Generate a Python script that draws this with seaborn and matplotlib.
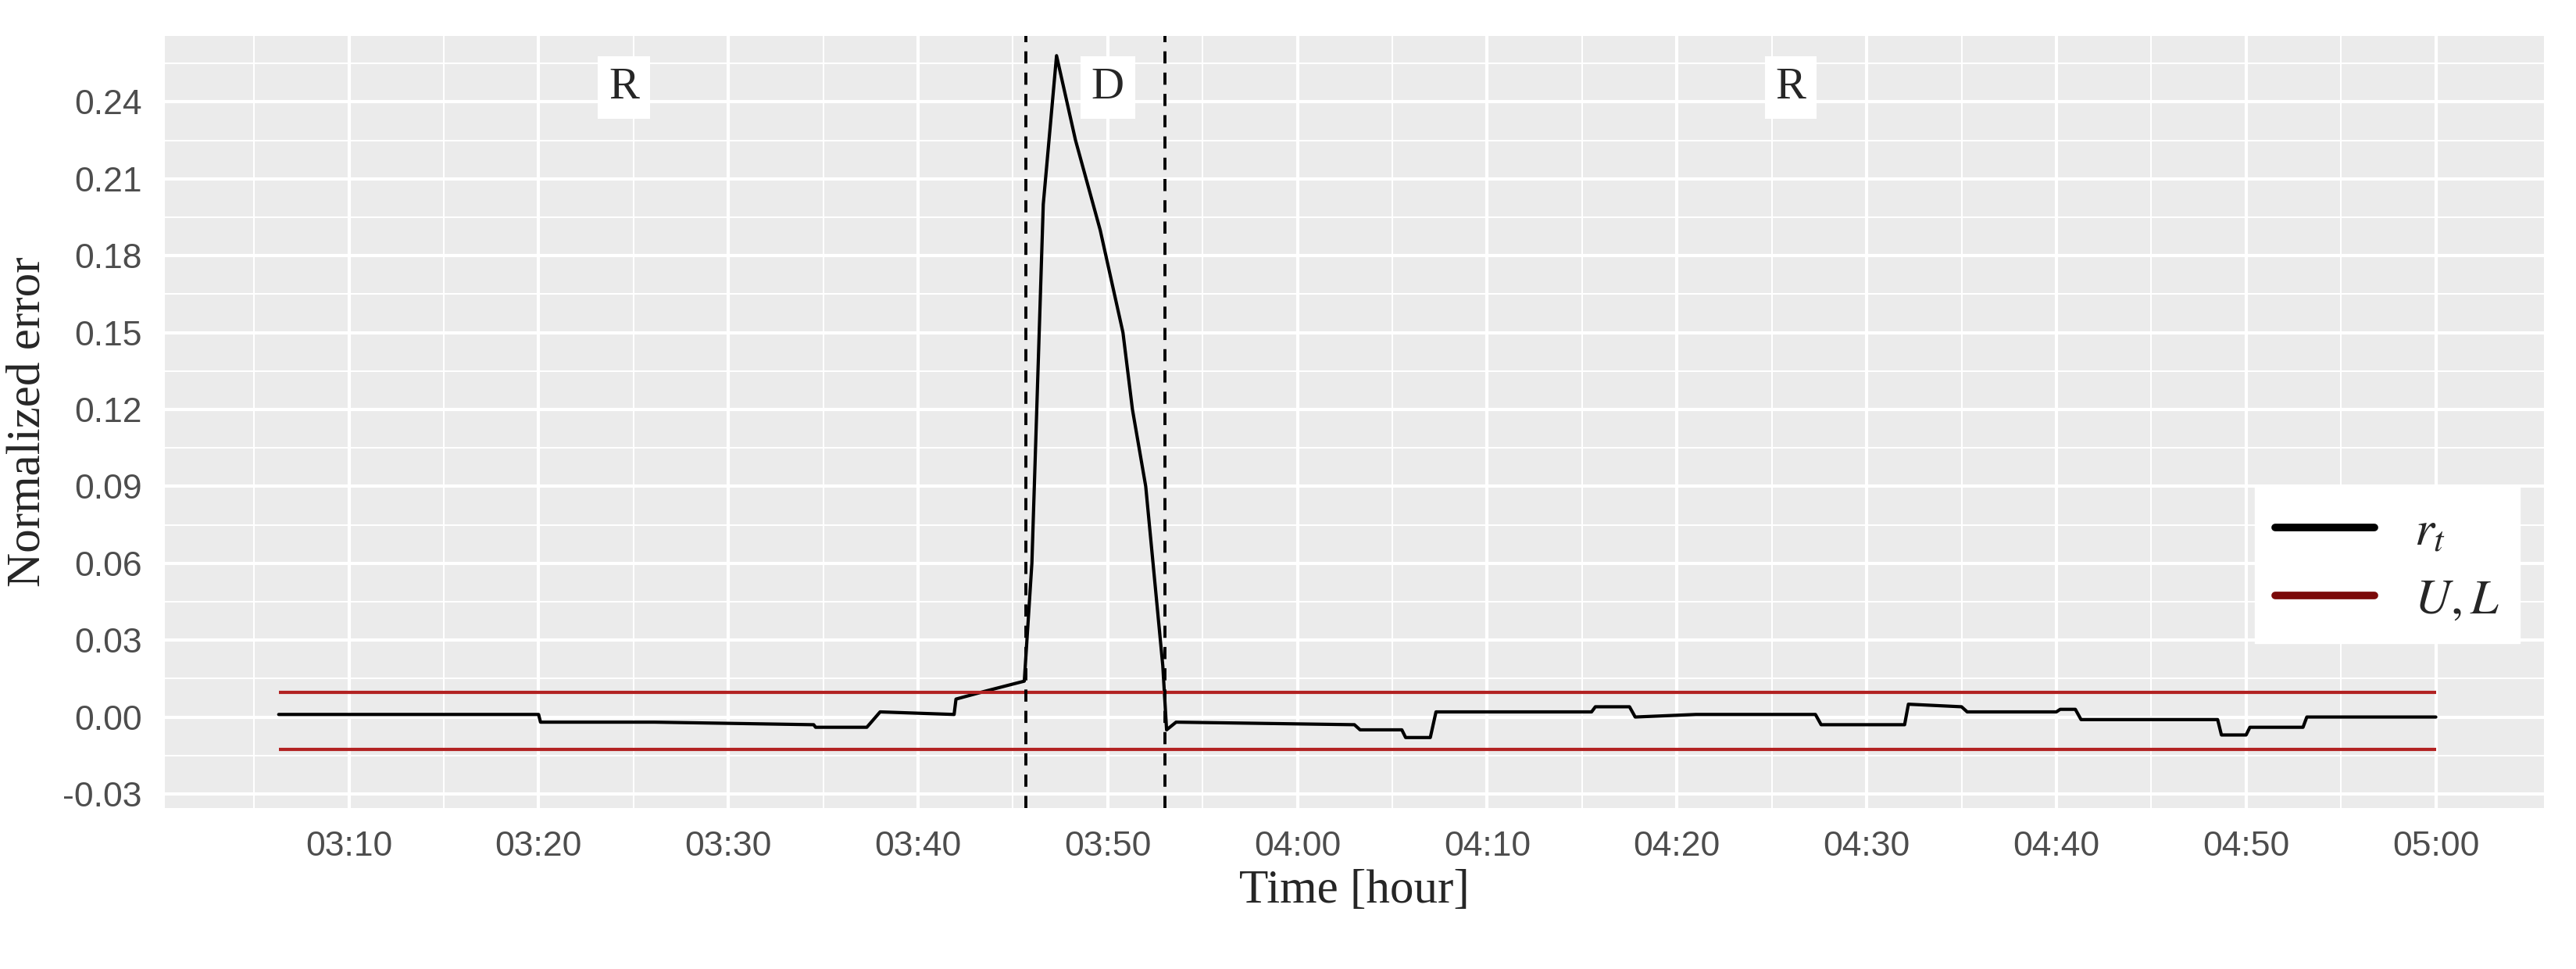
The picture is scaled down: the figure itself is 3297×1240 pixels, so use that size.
import matplotlib
matplotlib.use("Agg")
import matplotlib.pyplot as plt
import seaborn as sns
import pandas as pd
from matplotlib.lines import Line2D

# minutes after 03:00 and normalized error
t_min = [6.3, 20.0, 20.1, 26.0, 26.1, 34.5, 34.6, 37.3, 38.0, 41.9, 42.0, 43.5, 45.6,
         46.0, 46.6, 47.3, 48.3, 49.6, 50.8, 51.3, 52.0, 52.9, 53.1, 53.6,
         63.0, 63.3, 65.5, 65.7, 67.0, 67.3, 75.5, 75.7, 77.5, 77.8, 81.0, 87.3, 87.6,
         92.0, 92.2, 95.0, 95.3, 100.0, 100.2, 101.0, 101.3, 108.5, 108.7, 110.0, 110.2,
         113.0, 113.2, 120.0]
err = [0.001, 0.001, -0.002, -0.002, -0.002, -0.003, -0.004, -0.004, 0.002, 0.001, 0.007, 0.010, 0.014,
       0.060, 0.200, 0.258, 0.225, 0.190, 0.150, 0.120, 0.090, 0.020, -0.005, -0.002,
       -0.003, -0.005, -0.005, -0.008, -0.008, 0.002, 0.002, 0.004, 0.004, 0.000, 0.001, 0.001, -0.003,
       -0.003, 0.005, 0.004, 0.002, 0.002, 0.003, 0.003, -0.001, -0.001, -0.007, -0.007, -0.004,
       -0.004, 0.000, 0.000]
upper = 0.0095
lower = -0.0125
event_start, event_end = 45.7, 53.0
x_ticks = [10, 20, 30, 40, 50, 60, 70, 80, 90, 100, 110, 120]
x_labels = ["03:10", "03:20", "03:30", "03:40", "03:50", "04:00", "04:10", "04:20",
            "04:30", "04:40", "04:50", "05:00"]
y_ticks = [-0.03, 0.0, 0.03, 0.06, 0.09, 0.12, 0.15, 0.18, 0.21, 0.24]
region_labels = ["R", "D", "R"]
region_x = [24.5, 50.0, 86.0]

sns.set_theme(style="darkgrid")
plt.rcParams["mathtext.fontset"] = "stix"
fig = plt.figure(figsize=(32.98, 12.4), dpi=100)
ax = fig.add_axes([211/3298, 1 - 1034/1240, (3256-211)/3298, (1034-46)/1240])
ax.set_facecolor("#EBEBEB")

df = pd.DataFrame({"t": t_min, "err": err})
sns.lineplot(data=df, x="t", y="err", ax=ax, color="black", lw=3, estimator=None)
ax.hlines([upper, lower], t_min[0], t_min[-1], color="#B22222", lw=3)
for v in (event_start, event_end):
    ax.axvline(v, color="black", ls=(0, (4, 3)), lw=2.8)
for lab, xx in zip(region_labels, region_x):
    ax.text(xx, 0.2455, lab, ha="center", va="center", fontsize=42, family="Liberation Serif",
            bbox=dict(facecolor="white", edgecolor="none", pad=10))

ax.set_xlim(0.3, 125.7)
ax.set_ylim(-0.0355, 0.2657)
ax.set_xticks(x_ticks)
ax.set_xticklabels(x_labels)
ax.set_yticks(y_ticks)
ax.set_yticklabels([f"{v:.2f}" for v in y_ticks])
ax.set_xticks([5 + 10*i for i in range(12)], minor=True)
ax.set_yticks([-0.015 + 0.03*i for i in range(10)], minor=True)
ax.grid(which="major", color="white", lw=3)
ax.grid(which="minor", color="white", lw=1.5)
ax.tick_params(which="major", length=9, width=2.2, color="#333333", labelsize=32,
               labelcolor="#4D4D4D", pad=12)
ax.tick_params(which="minor", length=0)
for lab in ax.get_xticklabels() + ax.get_yticklabels():
    lab.set_family("Liberation Sans")
for s in ax.spines.values():
    s.set_visible(False)
ax.set_xlabel("Time [hour]", fontsize=44, family="Liberation Serif", labelpad=6)
ax.set_ylabel("Normalized error", fontsize=44, family="Liberation Serif", labelpad=12)

handles = [Line2D([], [], color="black", lw=7), Line2D([], [], color="#7B0A0A", lw=7)]
leg = ax.legend(handles, [r"$r_t$", r"$U, L$"], loc="upper left", bbox_to_anchor=(0.868, 0.449),
                fontsize=46, frameon=True, fancybox=False, framealpha=1, edgecolor="white",
                handlelength=2.0, borderpad=0.4, labelspacing=0.4)
leg.get_frame().set_facecolor("white")
fig.savefig("out.png", dpi=100)
